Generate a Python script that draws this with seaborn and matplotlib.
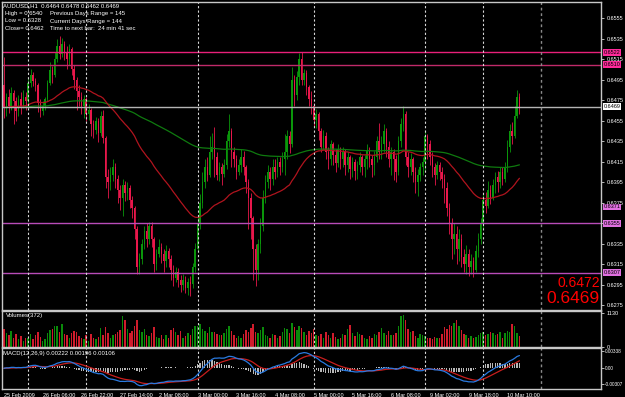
import numpy as np
import pandas as pd
import seaborn as sns
import matplotlib.pyplot as plt

# AUDUSD H1, prices in pips (6469 -> 0.6469)
first_open = 6490
close = [6468, 6478, 6470, 6482, 6474, 6465, 6476, 6470, 6478, 6474,
         6492, 6500, 6494, 6490, 6472, 6465, 6470, 6476, 6492, 6505,
         6500, 6515, 6528, 6520, 6530, 6522, 6515, 6525, 6506, 6495,
         6484, 6478, 6470, 6476, 6462, 6466, 6452, 6446, 6455, 6443,
         6460, 6438, 6400, 6395, 6402, 6410, 6398, 6388, 6380, 6392,
         6385, 6390, 6378, 6370, 6350, 6312, 6320, 6335, 6348, 6340,
         6352, 6340, 6315, 6325, 6332, 6325, 6318, 6328, 6320, 6310,
         6302, 6308, 6300, 6295, 6300, 6292, 6298, 6296, 6312, 6330,
         6355, 6375, 6395, 6410, 6402, 6425, 6430, 6420, 6402, 6410,
         6403, 6412, 6435, 6445, 6425, 6418, 6405, 6412, 6420, 6410,
         6395, 6380, 6360, 6330, 6310, 6335, 6352, 6380, 6395, 6405,
         6398, 6410, 6405, 6415, 6410, 6418, 6425, 6440, 6432, 6495,
         6480, 6498, 6515, 6495, 6502, 6488, 6476, 6470, 6456, 6462,
         6445, 6430, 6440, 6425, 6418, 6432, 6422, 6414, 6428, 6418,
         6425, 6412, 6420, 6408, 6415, 6406, 6412, 6420, 6410, 6418,
         6426, 6418, 6412, 6420, 6435, 6425, 6432, 6445, 6430, 6418,
         6425, 6418, 6405, 6435, 6452, 6462, 6420, 6410, 6418, 6405,
         6395, 6402, 6410, 6415, 6440, 6432, 6420, 6410, 6402, 6412,
         6405, 6398, 6390, 6370, 6355, 6340, 6345, 6330, 6340, 6322,
         6315, 6325, 6312, 6318, 6310, 6328, 6340, 6355, 6378, 6372,
         6388, 6380, 6392, 6400, 6395, 6405, 6398, 6410, 6430, 6445,
         6440, 6460, 6478, 6469]
high = [6517, 6482, 6486, 6488, 6485, 6478, 6480, 6483, 6485, 6483,
        6497, 6506, 6503, 6497, 6492, 6476, 6474, 6478, 6495, 6512,
        6509, 6522, 6535, 6538, 6536, 6533, 6528, 6530, 6527, 6510,
        6498, 6490, 6483, 6480, 6478, 6471, 6468, 6456, 6459, 6458,
        6465, 6466, 6440, 6408, 6410, 6418, 6414, 6402, 6392, 6398,
        6396, 6395, 6392, 6382, 6372, 6352, 6326, 6340, 6352, 6355,
        6356, 6356, 6342, 6330, 6340, 6336, 6330, 6334, 6331, 6324,
        6314, 6312, 6311, 6305, 6306, 6304, 6302, 6304, 6316, 6336,
        6362, 6384, 6405, 6418, 6420, 6440, 6443, 6449, 6425, 6415,
        6414, 6418, 6442, 6462, 6448, 6430, 6422, 6418, 6428, 6426,
        6412, 6398, 6385, 6362, 6335, 6340, 6360, 6388, 6402, 6412,
        6410, 6418, 6418, 6420, 6420, 6425, 6442, 6446, 6445, 6508,
        6500, 6504, 6521, 6522, 6506, 6505, 6490, 6484, 6472, 6467,
        6464, 6448, 6446, 6444, 6430, 6436, 6434, 6428, 6432, 6430,
        6430, 6428, 6425, 6422, 6420, 6418, 6416, 6425, 6422, 6422,
        6432, 6430, 6422, 6426, 6440, 6453, 6440, 6452, 6448, 6435,
        6430, 6428, 6422, 6440, 6458, 6470, 6465, 6425, 6424, 6420,
        6410, 6408, 6414, 6420, 6446, 6442, 6436, 6425, 6414, 6416,
        6415, 6410, 6403, 6395, 6375, 6360, 6355, 6352, 6350, 6345,
        6330, 6334, 6330, 6325, 6322, 6334, 6346, 6360, 6385, 6386,
        6396, 6392, 6398, 6405, 6406, 6410, 6410, 6415, 6436, 6452,
        6454, 6470, 6485, 6482]
low = [6458, 6460, 6463, 6466, 6452, 6455, 6460, 6462, 6468, 6466,
       6470, 6488, 6489, 6484, 6464, 6459, 6461, 6466, 6474, 6490,
       6492, 6498, 6512, 6515, 6517, 6514, 6506, 6510, 6500, 6486,
       6466, 6470, 6462, 6458, 6455, 6456, 6440, 6438, 6442, 6434,
       6440, 6433, 6390, 6380, 6388, 6396, 6390, 6375, 6368, 6362,
       6377, 6378, 6370, 6360, 6340, 6306, 6306, 6315, 6330, 6332,
       6335, 6332, 6308, 6310, 6322, 6316, 6308, 6312, 6312, 6300,
       6294, 6298, 6293, 6288, 6290, 6287, 6285, 6284, 6292, 6308,
       6328, 6350, 6370, 6390, 6396, 6400, 6418, 6400, 6397, 6396,
       6392, 6400, 6408, 6430, 6410, 6410, 6398, 6402, 6405, 6402,
       6385, 6350, 6340, 6300, 6294, 6300, 6326, 6348, 6375, 6390,
       6388, 6392, 6398, 6400, 6402, 6405, 6402, 6418, 6424, 6430,
       6470, 6475, 6490, 6490, 6490, 6480, 6470, 6462, 6450, 6448,
       6436, 6425, 6428, 6418, 6408, 6412, 6412, 6405, 6410, 6408,
       6410, 6402, 6405, 6398, 6400, 6397, 6398, 6405, 6402, 6400,
       6408, 6410, 6400, 6402, 6415, 6418, 6418, 6425, 6420, 6410,
       6402, 6397, 6395, 6402, 6430, 6445, 6412, 6400, 6402, 6395,
       6385, 6382, 6396, 6402, 6405, 6418, 6412, 6400, 6392, 6398,
       6397, 6390, 6375, 6362, 6345, 6320, 6325, 6315, 6318, 6312,
       6308, 6306, 6304, 6306, 6303, 6308, 6322, 6335, 6350, 6365,
       6370, 6374, 6378, 6385, 6386, 6390, 6392, 6395, 6405, 6425,
       6432, 6438, 6458, 6462]
volume = [600, 450, 380, 520, 300, 420, 250, 350, 200, 280,
          300, 420, 250, 380, 500, 320, 200, 260, 450, 560,
          600, 700, 680, 500, 750, 420, 380, 300, 450, 520,
          480, 350, 300, 250, 380, 200, 420, 300, 250, 330,
          620, 380, 650, 450, 300, 380, 420, 500, 560, 1020,
          880, 600, 450, 520, 700, 900, 550, 480, 600, 380,
          350, 450, 650, 320, 280, 400, 250, 380, 300, 560,
          620, 480, 400, 520, 300, 350, 450, 380, 600, 700,
          680, 750, 600, 520, 450, 650, 480, 500, 420, 380,
          380, 450, 600, 700, 520, 400, 300, 350, 280, 420,
          550, 480, 620, 750, 500, 450, 560, 650, 400, 350,
          300, 420, 380, 280, 350, 500, 620, 580, 450, 800,
          650, 550, 700, 620, 480, 380, 520, 450, 600, 400,
          350, 420, 300, 500, 380, 280, 450, 330, 250, 300,
          420, 380, 600, 720, 450, 350, 500, 420, 380, 300,
          250, 350, 300, 420, 380, 500, 620, 450, 380, 520,
          400, 380, 450, 700, 1000, 1050, 880, 600, 480, 520,
          350, 300, 420, 380, 350, 280, 300, 250, 320, 280,
          300, 420, 650, 600, 720, 680, 800, 900, 700, 550,
          420, 380, 300, 350, 280, 320, 400, 450, 500, 380,
          420, 500, 450, 380, 420, 480, 300, 450, 520, 480,
          760, 680, 450, 350]

tick_labels = ["25 Feb 2009", "26 Feb 06:00", "26 Feb 22:00", "27 Feb 14:00",
               "2 Mar 08:00", "3 Mar 00:00", "3 Mar 16:00", "4 Mar 08:00",
               "5 Mar 00:00", "5 Mar 16:00", "6 Mar 08:00", "9 Mar 02:00",
               "9 Mar 18:00", "10 Mar 10:00"]
separators = [10, 34, 80, 128, 174, 198]
levels = [0.6522, 0.6510, 0.6355, 0.6307]
level_colors = ['#e8207a', '#c02a6a', '#b84cb8', '#b84cb8']
bid = 0.6469

df = pd.DataFrame({'close': np.array(close) / 10000,
                   'high': np.array(high) / 10000,
                   'low': np.array(low) / 10000,
                   'volume': volume})
df['bar'] = np.arange(len(df))
df['open'] = df['close'].shift(1).fillna(first_open / 10000)
df['high'] = df[['high', 'open', 'close']].max(axis=1)
df['low'] = df[['low', 'open', 'close']].min(axis=1)
up = df['close'] >= df['open']

# indicators
df['ma_fast'] = df['close'].ewm(span=50, adjust=False).mean()
df['ma_slow'] = df['close'].ewm(span=200, adjust=False).mean()
df['macd'] = df['close'].ewm(span=12, adjust=False).mean() - df['close'].ewm(span=26, adjust=False).mean()
df['signal'] = df['macd'].ewm(span=9, adjust=False).mean()
df['hist'] = df['macd'] - df['signal']

sns.set_style('dark', {'axes.facecolor': 'black', 'figure.facecolor': 'black'})
plt.rcParams['font.family'] = ['Liberation Sans', 'DejaVu Sans']

W, H = 625, 397
fig = plt.figure(figsize=(6.25, 3.97), dpi=100, facecolor='black')
left, width = 2 / W, 599 / W
ax = fig.add_axes([left, (H - 310) / H, width, 308 / H])
axv = fig.add_axes([left, (H - 347) / H, width, 36 / H])
axm = fig.add_axes([left, (H - 389) / H, width, 41 / H])

green, red = '#0a960a', '#e8174b'
xmin, xmax = -0.8, 246.7

# candles
for mask, col in [(up, green), (~up, red)]:
    d = df[mask]
    ax.vlines(d['bar'], d['low'], d['high'], color=col, linewidth=0.6)
    body = (d['close'] - d['open']).abs().clip(lower=0.00003)
    ax.bar(d['bar'], body, bottom=d[['open', 'close']].min(axis=1), width=0.6, color=col, linewidth=0)

sns.lineplot(data=df, x='bar', y='ma_slow', ax=ax, color='#0f7a0f', linewidth=0.9)
sns.lineplot(data=df, x='bar', y='ma_fast', ax=ax, color='#b0141e', linewidth=0.9)

for lv, col in zip(levels, level_colors):
    ax.axhline(lv, color=col, linewidth=1.0)
ax.axhline(bid, color='#b4b4b4', linewidth=1.0)

for s in separators:
    for a in (ax, axv, axm):
        a.axvline(s, color='#d8d8d8', linewidth=0.8, linestyle=(0, (2, 2)))
for a in (ax, axv, axm):
    a.axvline(222, color='#8a8a8a', linewidth=1.0, linestyle=(0, (2, 2)))

ax.set_xlim(xmin, xmax)
ax.set_ylim(0.62705, 0.65710)
price_ticks = np.arange(0.6275, 0.6556, 0.0020)
ax.yaxis.tick_right()
ax.set_yticks(price_ticks)
# the 0.6355 tick sits under a level box, as in the terminal
ax.set_yticklabels(['' if abs(p - 0.6355) < 1e-6 else f'{p:.4f}' for p in price_ticks])

# price boxes on the axis
ytr = ax.get_yaxis_transform()
boxes = [(0.6522, '#ff2a9a'), (0.6510, '#ff2a9a'), (0.6469, 'white'),
         (0.6371, '#e070e0'), (0.6355, '#e070e0'), (0.6307, '#e070e0')]
for val, col in boxes:
    ax.text(1.004, val, f'{val:.4f}', transform=ytr, fontsize=4, color='black',
            va='center', ha='left', clip_on=False, zorder=5,
            bbox=dict(boxstyle='square,pad=0.15', fc=col, ec='none'))

ax.text(0.998, 0.088, '0.6472', transform=ax.transAxes, ha='right', va='center',
        color='#ff0000', fontsize=10)
ax.text(0.998, 0.037, '0.6469', transform=ax.transAxes, ha='right', va='center',
        color='#ff0000', fontsize=12.5)

info = [(3, 6, 'AUDUSD,H1  0.6464 0.6478 0.6462 0.6469'),
        (5, 14, 'High = 0.6540'), (50, 14, 'Previous Days Range = 145'),
        (5, 21, 'Low = 0.6328'), (50, 21, 'Current Days Range = 144'),
        (5, 28, 'Close= 0.6462'), (50, 28, 'Time to next bar:  24 min 41 sec')]
for x, y, t in info:
    fig.text(x / W, 1 - y / H, t, color='white', fontsize=4.3, va='center', ha='left')

# volumes
for mask, col in [(up, '#0a8a0a'), (~up, '#d01c2c')]:
    d = df[mask]
    axv.bar(d['bar'], d['volume'], width=0.6, color=col, linewidth=0)
axv.set_xlim(xmin, xmax)
axv.set_ylim(0, 1180)
axv.yaxis.tick_right()
axv.set_yticks([0, 1130])
axv.set_yticklabels(['0', '1130'])
axv.text(0.006, 0.82, 'Volumes(372)', transform=axv.transAxes, color='white', fontsize=4.3)

# MACD
axm.bar(df['bar'], df['hist'], width=0.5, color='#b8b8b8', linewidth=0)
sns.lineplot(data=df, x='bar', y='signal', ax=axm, color='#c81e1e', linewidth=0.9)
sns.lineplot(data=df, x='bar', y='macd', ax=axm, color='#2a7ae0', linewidth=0.9)
axm.set_xlim(xmin, xmax)
axm.set_ylim(-0.0041, 0.0040)
axm.yaxis.tick_right()
axm.set_yticks([0.00338, 0, -0.00307])
axm.set_yticklabels(['0.00338', '0.00', '-0.00307'])
axm.text(0.002, 0.86, 'MACD(12,26,9) 0.00222 0.00196 0.00106', transform=axm.transAxes,
         color='white', fontsize=4.3, va='center')
axm.set_xticks(np.arange(0, 16 * len(tick_labels), 16))
axm.set_xticklabels(tick_labels, ha='left')

for a in (ax, axv, axm):
    a.set_facecolor('black')
    a.set_xlabel('')
    a.set_ylabel('')
    a.tick_params(axis='y', colors='white', labelsize=4, length=2, pad=2, width=0.5)
    a.tick_params(axis='x', colors='white', labelsize=4, length=2, pad=1, width=0.5)
    a.grid(False)
    for sp in a.spines.values():
        sp.set_color('#c8c8c8')
        sp.set_linewidth(1)
ax.tick_params(axis='x', bottom=False, labelbottom=False)
axv.tick_params(axis='x', bottom=False, labelbottom=False)
axm.tick_params(axis='y', labelsize=3.4, pad=1)

fig.savefig('out.png', dpi=100, facecolor='black')
